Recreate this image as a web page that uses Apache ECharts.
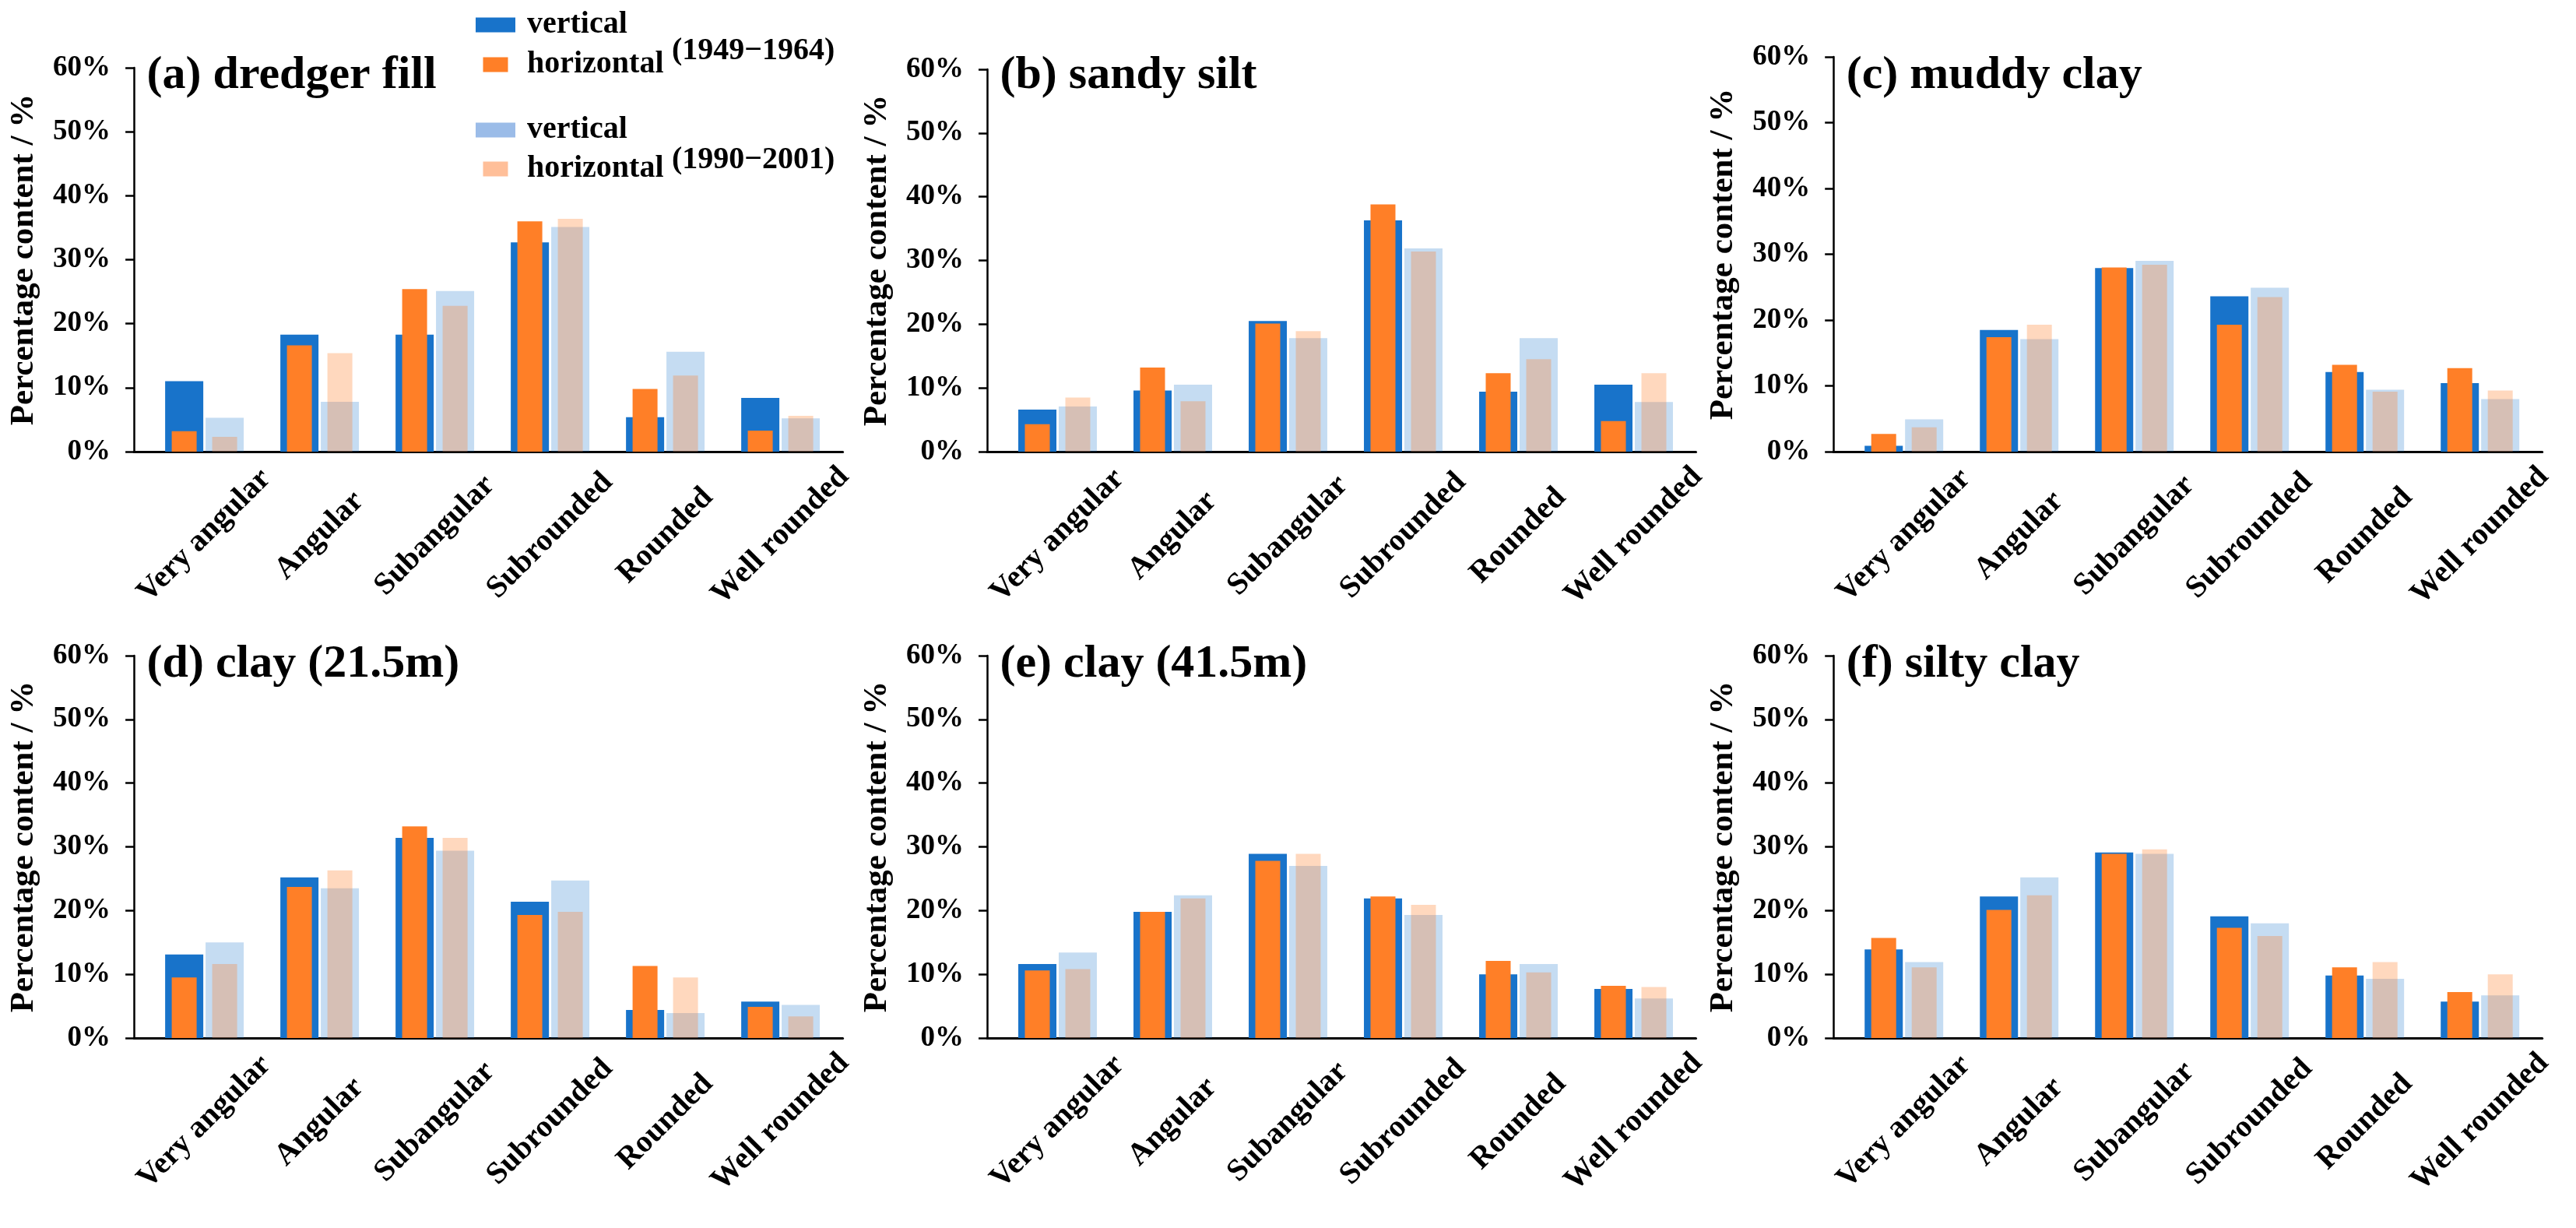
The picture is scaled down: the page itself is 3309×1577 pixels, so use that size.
<!DOCTYPE html>
<html>
<head>
<meta charset="utf-8">
<script src="https://cdn.jsdelivr.net/npm/echarts@6/dist/echarts.min.js"></script>
<style>
html,body{margin:0;padding:0;background:#fff;}
#chart{width:3309px;height:1577px;}
</style>
</head>
<body>
<div id="chart"></div>
<script>
// ---------- data ----------
const categories = ['Very angular', 'Angular', 'Subangular', 'Subrounded', 'Rounded', 'Well rounded'];
const yTicks = [0, 10, 20, 30, 40, 50, 60];
const panelTitles = ['(a) dredger fill', '(b) sandy silt', '(c) muddy clay', '(d) clay (21.5m)', '(e) clay (41.5m)', '(f) silty clay'];
const periodLabels = ['(1949\u22121964)', '(1990\u22122001)'];

// (a) dredger fill
const dredgerFillVertical1949   = [11.0, 18.3, 18.3, 32.7, 5.4, 8.4];
const dredgerFillHorizontal1949 = [3.2, 16.6, 25.4, 36.0, 9.8, 3.3];
const dredgerFillVertical1990   = [5.3, 7.8, 25.1, 35.1, 15.6, 5.2];
const dredgerFillHorizontal1990 = [2.3, 15.4, 22.8, 36.4, 11.9, 5.6];
// (b) sandy silt
const sandySiltVertical1949   = [6.6, 9.6, 20.5, 36.3, 9.4, 10.5];
const sandySiltHorizontal1949 = [4.3, 13.2, 20.1, 38.8, 12.3, 4.8];
const sandySiltVertical1990   = [7.1, 10.5, 17.8, 31.9, 17.8, 7.8];
const sandySiltHorizontal1990 = [8.5, 7.9, 18.9, 31.4, 14.5, 12.3];
// (c) muddy clay
const muddyClayVertical1949   = [0.9, 18.5, 27.9, 23.6, 12.1, 10.4];
const muddyClayHorizontal1949 = [2.7, 17.4, 28.0, 19.3, 13.2, 12.7];
const muddyClayVertical1990   = [4.9, 17.1, 29.0, 24.9, 9.4, 8.0];
const muddyClayHorizontal1990 = [3.7, 19.3, 28.4, 23.5, 9.1, 9.3];
// (d) clay 21.5 m
const clay21Vertical1949   = [13.1, 25.2, 31.4, 21.4, 4.4, 5.7];
const clay21Horizontal1949 = [9.5, 23.7, 33.2, 19.3, 11.3, 4.9];
const clay21Vertical1990   = [15.0, 23.5, 29.4, 24.7, 3.9, 5.2];
const clay21Horizontal1990 = [11.6, 26.3, 31.4, 19.8, 9.5, 3.4];
// (e) clay 41.5 m
const clay41Vertical1949   = [11.6, 19.8, 28.9, 21.9, 10.0, 7.7];
const clay41Horizontal1949 = [10.6, 19.8, 27.8, 22.2, 12.1, 8.2];
const clay41Vertical1990   = [13.4, 22.4, 27.0, 19.3, 11.6, 6.2];
const clay41Horizontal1990 = [10.8, 21.9, 28.9, 20.9, 10.3, 8.0];
// (f) silty clay
const siltyClayVertical1949   = [13.9, 22.2, 29.1, 19.1, 9.8, 5.7];
const siltyClayHorizontal1949 = [15.7, 20.1, 28.9, 17.3, 11.1, 7.2];
const siltyClayVertical1990   = [11.9, 25.2, 28.9, 18.0, 9.3, 6.7];
const siltyClayHorizontal1990 = [11.1, 22.4, 29.6, 16.0, 11.9, 10.0];

const panelData = [
  [dredgerFillVertical1949, dredgerFillHorizontal1949, dredgerFillVertical1990, dredgerFillHorizontal1990],
  [sandySiltVertical1949, sandySiltHorizontal1949, sandySiltVertical1990, sandySiltHorizontal1990],
  [muddyClayVertical1949, muddyClayHorizontal1949, muddyClayVertical1990, muddyClayHorizontal1990],
  [clay21Vertical1949, clay21Horizontal1949, clay21Vertical1990, clay21Horizontal1990],
  [clay41Vertical1949, clay41Horizontal1949, clay41Vertical1990, clay41Horizontal1990],
  [siltyClayVertical1949, siltyClayHorizontal1949, siltyClayVertical1990, siltyClayHorizontal1990]
];

// ---------- layout / style ----------
const FONT = "'Liberation Serif', 'Times New Roman', serif";
const layout = [
  {L: 188.6,  top: 87,  bottom: 580,  titleTop: 62},
  {L: 1284.5, top: 89,  bottom: 580,  titleTop: 62},
  {L: 2371.7, top: 73,  bottom: 580,  titleTop: 62},
  {L: 188.6,  top: 842, bottom: 1333, titleTop: 818},
  {L: 1284.5, top: 842, bottom: 1333, titleTop: 818},
  {L: 2371.7, top: 842, bottom: 1333, titleTop: 818}
];
const BAR_W = 888, FRAME_SHIFT = 16.5, FRAME_EXTRA = 6;
const C_DB = '#1873CA', C_OR = '#FF7F27';
const C_LB = 'rgba(24,115,202,0.25)', C_LO = 'rgba(255,127,39,0.30)';
const seriesNames = ['vertical (1949)', 'horizontal (1949)', 'vertical (1990)', 'horizontal (1990)'];

const grid = [], xAxis = [], yAxis = [], series = [], title = [];

layout.forEach((g, p) => {
  const h = g.bottom - g.top;
  grid.push({left: g.L - FRAME_SHIFT, top: g.top, width: BAR_W + FRAME_SHIFT + FRAME_EXTRA, height: h});
  grid.push({left: g.L, top: g.top, width: BAR_W, height: h});
  const gf = 2 * p, gb = 2 * p + 1;

  xAxis.push({
    type: 'value', gridIndex: gf, min: 0, max: 1,
    axisLine: {show: true, onZero: false, lineStyle: {color: '#000', width: 3}},
    axisTick: {show: false}, axisLabel: {show: false}, splitLine: {show: false}
  });
  const xMain = xAxis.length;
  xAxis.push({
    type: 'category', gridIndex: gb, data: categories,
    axisLine: {show: false}, axisTick: {show: false}, splitLine: {show: false},
    axisLabel: {
      interval: 0, rotate: 45, align: 'center', verticalAlign: 'middle', margin: 108,
      fontFamily: FONT, fontWeight: 'bold', fontSize: 40, color: '#000'
    }
  });
  const xOver = xAxis.length;
  xAxis.push({type: 'category', gridIndex: gb, data: categories, show: false});

  yAxis.push({
    type: 'value', gridIndex: gf, min: 0, max: 60, interval: 10,
    name: 'Percentage content / %', nameLocation: 'middle', nameGap: 120, nameRotate: 90,
    nameTextStyle: {fontFamily: FONT, fontWeight: 'bold', fontSize: 43, color: '#000'},
    axisLine: {show: true, onZero: false, lineStyle: {color: '#000', width: 2.5}},
    axisTick: {show: true, inside: false, length: 11, lineStyle: {color: '#000', width: 2.5}},
    axisLabel: {formatter: '{value}%', margin: 30, fontFamily: FONT, fontWeight: 'bold', fontSize: 37, color: '#000'},
    splitLine: {show: false}
  });
  const yBar = yAxis.length;
  yAxis.push({type: 'value', gridIndex: gb, min: 0, max: 60, show: false, splitLine: {show: false}});

  const d = panelData[p];
  series.push({name: seriesNames[0], type: 'bar', xAxisIndex: xMain, yAxisIndex: yBar,
    data: d[0], barWidth: 49, barGap: '6%', itemStyle: {color: C_DB}, z: 2});
  series.push({name: seriesNames[2], type: 'bar', xAxisIndex: xMain, yAxisIndex: yBar,
    data: d[2], barWidth: 49, barGap: '6%', itemStyle: {color: C_LB}, z: 2});
  series.push({name: seriesNames[1], type: 'bar', xAxisIndex: xOver, yAxisIndex: yBar,
    data: d[1], barWidth: 32, barGap: '62.5%', itemStyle: {color: C_OR}, z: 3});
  series.push({name: seriesNames[3], type: 'bar', xAxisIndex: xOver, yAxisIndex: yBar,
    data: d[3], barWidth: 32, barGap: '62.5%', itemStyle: {color: C_LO}, z: 3});

  title.push({
    text: panelTitles[p], left: g.L, top: g.titleTop, padding: 0,
    textStyle: {
      fontFamily: FONT, fontWeight: 'bold', fontSize: 60, color: '#000',
      backgroundColor: '#E8E8E8', lineHeight: 70, padding: [0, 10, 0, 0]
    }
  });
});

title.push({text: periodLabels[0], left: 863, top: 46, padding: 0,
  textStyle: {fontFamily: FONT, fontWeight: 'bold', fontSize: 40, color: '#000'}});
title.push({text: periodLabels[1], left: 863, top: 186, padding: 0,
  textStyle: {fontFamily: FONT, fontWeight: 'bold', fontSize: 40, color: '#000'}});

const legendText = {fontFamily: FONT, fontWeight: 'bold', fontSize: 40, color: '#000', padding: [0, 0, 0, 10]};
const legend = [
  {
    orient: 'vertical', left: 611, top: 12, padding: 0, itemGap: 11,
    itemWidth: 51, itemHeight: 19, selectedMode: false,
    formatter: n => n.split(' ')[0], textStyle: legendText,
    data: [
      {name: seriesNames[0], icon: 'rect'},
      {name: seriesNames[1], icon: 'path://M0,0h32v19h-32z'}
    ]
  },
  {
    orient: 'vertical', left: 611, top: 147, padding: 0, itemGap: 10,
    itemWidth: 51, itemHeight: 19, selectedMode: false,
    formatter: n => n.split(' ')[0], textStyle: legendText,
    data: [
      {name: seriesNames[2], icon: 'rect', itemStyle: {color: '#9BBCE8', opacity: 1}},
      {name: seriesNames[3], icon: 'path://M0,0h32v19h-32z', itemStyle: {color: '#FFBF99', opacity: 1}}
    ]
  }
];

const chart = echarts.init(document.getElementById('chart'), null, {renderer: 'canvas'});
chart.setOption({
  backgroundColor: '#fff',
  animation: false,
  title, legend, grid, xAxis, yAxis, series
});
</script>
</body>
</html>
